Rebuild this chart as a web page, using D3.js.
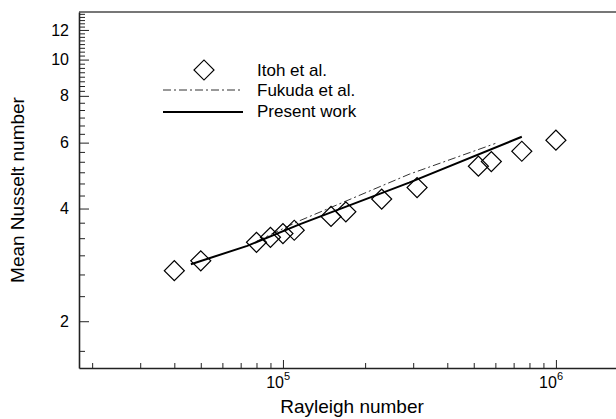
<!DOCTYPE html>
<html>
<head>
<meta charset="utf-8">
<script src="https://cdn.jsdelivr.net/npm/d3@7"></script>
<style>
  body { margin: 0; background: #fff; }
  svg text { font-family: "Liberation Sans", Arial, sans-serif; fill: #000; }
</style>
</head>
<body>
<div id="area"></div>
<script>
// Itoh et al. (diamonds)
var itohRa = [4.0e4, 5.0e4, 8.0e4, 9.0e4, 1.0e5, 1.1e5, 1.5e5, 1.7e5, 2.3e5, 3.1e5, 5.2e5, 5.8e5, 7.5e5, 1.0e6];
var itohNu = [2.73, 2.90, 3.25, 3.35, 3.43, 3.50, 3.81, 3.92, 4.24, 4.55, 5.19, 5.34, 5.69, 6.09];
// Fukuda et al. (dash-dot)
var fukudaRa = [8.0e4, 1.15e5, 2.9e5, 6.0e5];
var fukudaNu = [3.27, 3.71, 4.94, 5.97];
// Present work (solid)
var presentRa = [4.6e4, 7.4e4, 1.15e5, 2.9e5, 7.5e5];
var presentNu = [2.84, 3.18, 3.63, 4.69, 6.22];

var yMajor = [2, 4, 6, 8, 10, 12];
var xMajor = [1e5, 1e6];
var xMajorExp = ["5", "6"];
var legendLabels = ["Itoh et al.", "Fukuda et al.", "Present work"];

var width = 616, height = 419;
var pLeft = 79, pRight = 616, pTop = 12, pBottom = 368;

var svg = d3.select("#area").append("svg")
    .attr("width", width)
    .attr("height", height);

var x = d3.scaleLog().domain([1.79e4, 1.66e6]).range([pLeft, pRight]);
var y = d3.scaleLog().domain([1.5, 13.4]).range([pBottom, pTop]);

// minor tick values
var xMinor = [];
[1e4, 1e5, 1e6].forEach(function (d) {
    for (var k = 2; k <= 9; k++) {
        var v = d * k;
        if (v >= x.domain()[0] && v <= x.domain()[1]) xMinor.push(v);
    }
});
var yMinor = [];
for (var k = 5; k < 24; k++) {           // thirds up to 8
    var v = k / 3;
    if (yMajor.indexOf(v) < 0 && v >= 1.5) yMinor.push(v);
}
for (var k = 33; k <= 53; k++) {          // quarters from 8 up
    var v = k / 4;
    if (yMajor.indexOf(v) < 0 && v <= 13.4) yMinor.push(v);
}

// top frame line
svg.append("line")
    .attr("x1", pLeft).attr("x2", pRight)
    .attr("y1", pTop).attr("y2", pTop)
    .attr("stroke", "#777").attr("stroke-width", 2);

// x axis
svg.append("g")
    .attr("transform", "translate(0," + pBottom + ")")
    .call(d3.axisBottom(x).tickValues(xMinor).tickSizeInner(-5).tickSizeOuter(0).tickFormat(""))
    .call(function (g) { g.select(".domain").remove(); });
svg.append("g")
    .attr("transform", "translate(0," + pBottom + ")")
    .call(d3.axisBottom(x).tickValues(xMajor).tickSizeInner(-8).tickSizeOuter(0).tickFormat(""))
    .call(function (g) {
        g.select(".domain").attr("stroke", "#222").attr("stroke-width", 1.6);
    });

// x tick labels 10^n
xMajor.forEach(function (d, i) {
    svg.append("text")
        .attr("x", x(d) + 1).attr("y", 388)
        .attr("text-anchor", "end")
        .attr("font-size", 16)
        .text("10");
    svg.append("text")
        .attr("x", x(d) + 1).attr("y", 380)
        .attr("text-anchor", "start")
        .attr("font-size", 11)
        .text(xMajorExp[i]);
});

// y axis
svg.append("g")
    .attr("transform", "translate(" + pLeft + ",0)")
    .call(d3.axisLeft(y).tickValues(yMinor).tickSizeInner(-6).tickSizeOuter(0).tickFormat(""))
    .call(function (g) { g.select(".domain").remove(); });
svg.append("g")
    .attr("transform", "translate(" + pLeft + ",0)")
    .call(d3.axisLeft(y).tickValues(yMajor).tickSizeInner(-10).tickSizeOuter(0).tickPadding(10).tickFormat(d3.format("d")))
    .call(function (g) {
        g.select(".domain").attr("stroke", "#222").attr("stroke-width", 1.6);
        g.selectAll("text").attr("font-size", 16).attr("font-family", "Liberation Sans, Arial, sans-serif");
    });

svg.selectAll(".tick line").attr("stroke", "#222");

// axis titles
svg.append("text")
    .attr("x", 352).attr("y", 413)
    .attr("text-anchor", "middle")
    .attr("font-size", 19)
    .text("Rayleigh number");
svg.append("text")
    .attr("transform", "translate(24,190) rotate(-90)")
    .attr("text-anchor", "middle")
    .attr("font-size", 19)
    .text("Mean Nusselt number");

// lines
var line = d3.line()
    .x(function (d) { return x(d[0]); })
    .y(function (d) { return y(d[1]); });

svg.append("path")
    .datum(d3.zip(fukudaRa, fukudaNu))
    .attr("d", line)
    .attr("fill", "none")
    .attr("stroke", "#333")
    .attr("stroke-width", 1)
    .attr("stroke-dasharray", "8,3,2,3");

svg.append("path")
    .datum(d3.zip(presentRa, presentNu))
    .attr("d", line)
    .attr("fill", "none")
    .attr("stroke", "#000")
    .attr("stroke-width", 2);

// diamonds
var diamond = d3.symbol().type(d3.symbolSquare).size(200);
svg.selectAll(".pt")
    .data(d3.zip(itohRa, itohNu))
    .enter().append("path")
    .attr("class", "pt")
    .attr("d", diamond)
    .attr("transform", function (d) {
        return "translate(" + x(d[0]) + "," + y(d[1]) + ") rotate(45)";
    })
    .attr("fill", "none")
    .attr("stroke", "#000")
    .attr("stroke-width", 1.2);

// legend
var lg = svg.append("g");
lg.append("path")
    .attr("d", diamond)
    .attr("transform", "translate(204,70) rotate(45)")
    .attr("fill", "none")
    .attr("stroke", "#000")
    .attr("stroke-width", 1.2);
lg.append("line")
    .attr("x1", 163).attr("x2", 243).attr("y1", 90).attr("y2", 90)
    .attr("stroke", "#333").attr("stroke-width", 1)
    .attr("stroke-dasharray", "8,3,2,3");
lg.append("line")
    .attr("x1", 163).attr("x2", 243).attr("y1", 112).attr("y2", 112)
    .attr("stroke", "#000").attr("stroke-width", 2);
legendLabels.forEach(function (t, i) {
    lg.append("text")
        .attr("x", 257).attr("y", 76 + i * 20.3)
        .attr("font-size", 17)
        .text(t);
});
</script>
</body>
</html>
